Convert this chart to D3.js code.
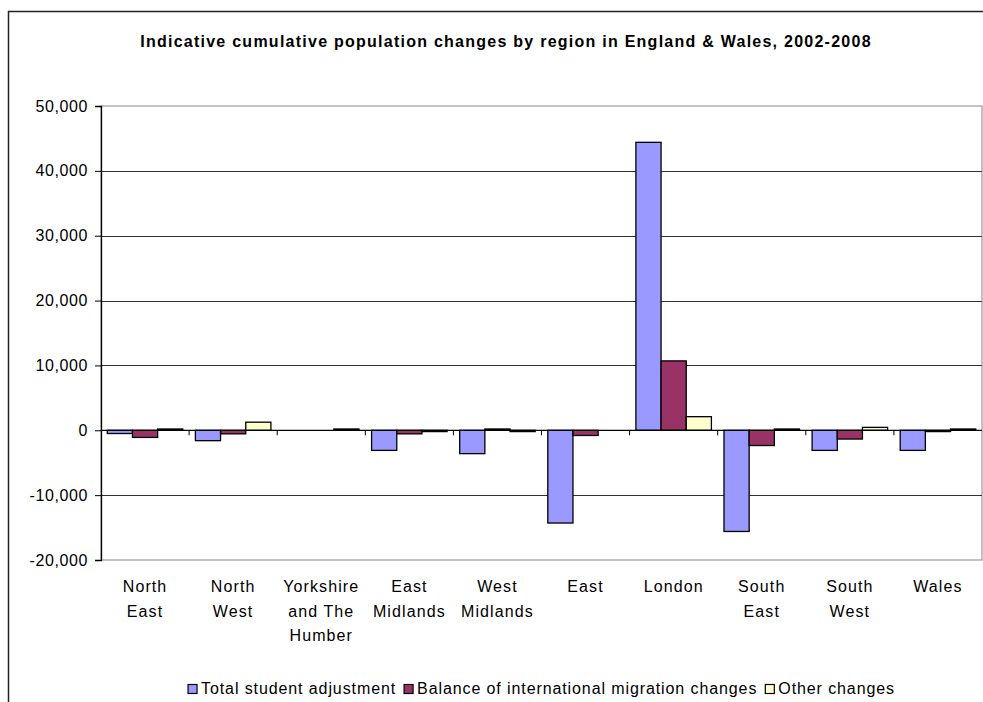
<!DOCTYPE html>
<html>
<head>
<meta charset="utf-8">
<script src="https://cdn.jsdelivr.net/npm/d3@7"></script>
<style>
  html, body { margin: 0; padding: 0; background: #fff; }
  svg { display: block; font-family: "Liberation Sans", Arial, sans-serif; }
</style>
</head>
<body>
<svg id="chart" width="983" height="702"></svg>
<script>
// Regions (category axis)
const regions = [
  ["North", "East"],
  ["North", "West"],
  ["Yorkshire", "and The", "Humber"],
  ["East", "Midlands"],
  ["West", "Midlands"],
  ["East"],
  ["London"],
  ["South", "East"],
  ["South", "West"],
  ["Wales"]
];

// Series names
const seriesNames = [
  "Total student adjustment",
  "Balance of international migration changes",
  "Other changes"
];

// Series values, one per region
const studentAdjustment = [-500, -1600, 0, -3100, -3600, -14300, 44400, -15600, -3100, -3100];
const migrationBalance  = [-1100, -550, 0, -550, 200, -800, 10700, -2350, -1350, -200];
const otherChanges      = [200, 1250, 200, -200, -200, 0, 2100, 200, 450, 200];

// Value axis ticks
const yTicks = [-20000, -10000, 0, 10000, 20000, 30000, 40000, 50000];

const seriesColors = ["#9999FF", "#993366", "#FFFFCC"];

const svg = d3.select("#chart");

// Outer chart frame
svg.append("path")
  .attr("d", "M8.5,702 V11.5 H983")
  .attr("fill", "none")
  .attr("stroke", "#222")
  .attr("stroke-width", 1.5);

// Title
svg.append("text")
  .attr("x", 506)
  .attr("y", 47)
  .attr("text-anchor", "middle")
  .attr("font-weight", "bold")
  .attr("font-size", 16)
  .attr("letter-spacing", 1.25)
  .attr("fill", "#000")
  .text("Indicative cumulative population changes by region in England & Wales, 2002-2008");

const plot = { left: 101, right: 982, top: 106, bottom: 560 };

const keys = regions.map((r, i) => i);
const x0 = d3.scaleBand().domain(keys).range([plot.left, plot.right]).padding(0);
const x1 = d3.scaleBand().domain(d3.range(seriesNames.length))
  .range([0, x0.bandwidth()]).paddingInner(0).paddingOuter(0.25);
const y = d3.scaleLinear().domain([-20000, 50000]).range([plot.bottom, plot.top]);

// Plot area border
svg.append("rect")
  .attr("x", plot.left).attr("y", plot.top)
  .attr("width", plot.right - plot.left).attr("height", plot.bottom - plot.top)
  .attr("fill", "none").attr("stroke", "#9a9a9a").attr("stroke-width", 1.2);

// Gridlines
svg.append("g")
  .selectAll("line")
  .data(yTicks.filter(t => t !== -20000 && t !== 50000 && t !== 0))
  .join("line")
  .attr("x1", plot.left).attr("x2", plot.right)
  .attr("y1", d => Math.round(y(d)) + 0.5).attr("y2", d => Math.round(y(d)) + 0.5)
  .attr("stroke", "#333").attr("stroke-width", 1);

// Value axis
const fmt = d3.format(",");
const yAxis = d3.axisLeft(y)
  .tickValues(yTicks)
  .tickSize(6)
  .tickPadding(7)
  .tickFormat(d => fmt(d).replace("\u2212", "-"));
const gy = svg.append("g")
  .attr("transform", `translate(${plot.left},0)`)
  .call(yAxis);
gy.select(".domain").attr("stroke", "#000").attr("stroke-width", 1.3);
gy.selectAll(".tick line").attr("stroke", "#000");
gy.selectAll(".tick text")
  .attr("font-size", 16)
  .attr("letter-spacing", 0.6)
  .attr("fill", "#000")
  .attr("font-family", "Liberation Sans, Arial, sans-serif");

// Bars
const seriesData = [studentAdjustment, migrationBalance, otherChanges];
const groups = svg.append("g")
  .selectAll("g")
  .data(keys)
  .join("g")
  .attr("transform", d => `translate(${x0(d)},0)`);

groups.selectAll("rect")
  .data(i => seriesData.map((s, k) => ({ k, v: s[i] })).filter(d => d.v !== 0))
  .join("rect")
  .attr("x", d => x1(d.k))
  .attr("width", x1.bandwidth())
  .attr("y", d => y(Math.max(0, d.v)))
  .attr("height", d => Math.abs(y(d.v) - y(0)))
  .attr("fill", d => seriesColors[d.k])
  .attr("stroke", "#000")
  .attr("stroke-width", 1.3);

// Category axis along zero
const xAxisG = svg.append("g");
xAxisG.append("line")
  .attr("x1", plot.left).attr("x2", plot.right)
  .attr("y1", y(0)).attr("y2", y(0))
  .attr("stroke", "#000").attr("stroke-width", 1.3);
xAxisG.selectAll("line.tick")
  .data(keys.slice(1))
  .join("line")
  .attr("class", "tick")
  .attr("x1", d => x0(d)).attr("x2", d => x0(d))
  .attr("y1", y(0)).attr("y2", y(0) + 5)
  .attr("stroke", "#000");

// Category labels
const labels = svg.append("g")
  .selectAll("text")
  .data(keys)
  .join("text")
  .attr("x", d => x0(d) + x0.bandwidth() / 2)
  .attr("y", 592)
  .attr("text-anchor", "middle")
  .attr("font-size", 16)
  .attr("letter-spacing", 1.1)
  .attr("fill", "#000");
labels.selectAll("tspan")
  .data(d => regions[d])
  .join("tspan")
  .attr("x", function () { return d3.select(this.parentNode).attr("x"); })
  .attr("dy", (d, i) => i === 0 ? 0 : 24.5)
  .text(d => d);

// Legend: items laid out left to right, centred under the plot
const legend = svg.append("g");
const items = legend.selectAll("g")
  .data(seriesNames)
  .join("g");
items.append("rect")
  .attr("y", -9.5)
  .attr("width", 9).attr("height", 9)
  .attr("fill", (d, i) => seriesColors[i])
  .attr("stroke", "#000").attr("stroke-width", 1.2);
items.append("text")
  .attr("x", 13).attr("y", 0)
  .attr("font-size", 16)
  .attr("letter-spacing", 0.9)
  .attr("fill", "#000")
  .text(d => d);
let cursor = 0;
const offsets = [];
items.each(function () {
  offsets.push(cursor);
  cursor += 13 + d3.select(this).select("text").node().getComputedTextLength() + 8;
});
cursor -= 8;
const legendLeft = (plot.left + plot.right) / 2 - cursor / 2;
items.attr("transform", (d, i) => `translate(${legendLeft + offsets[i]},694)`);
</script>
</body>
</html>
